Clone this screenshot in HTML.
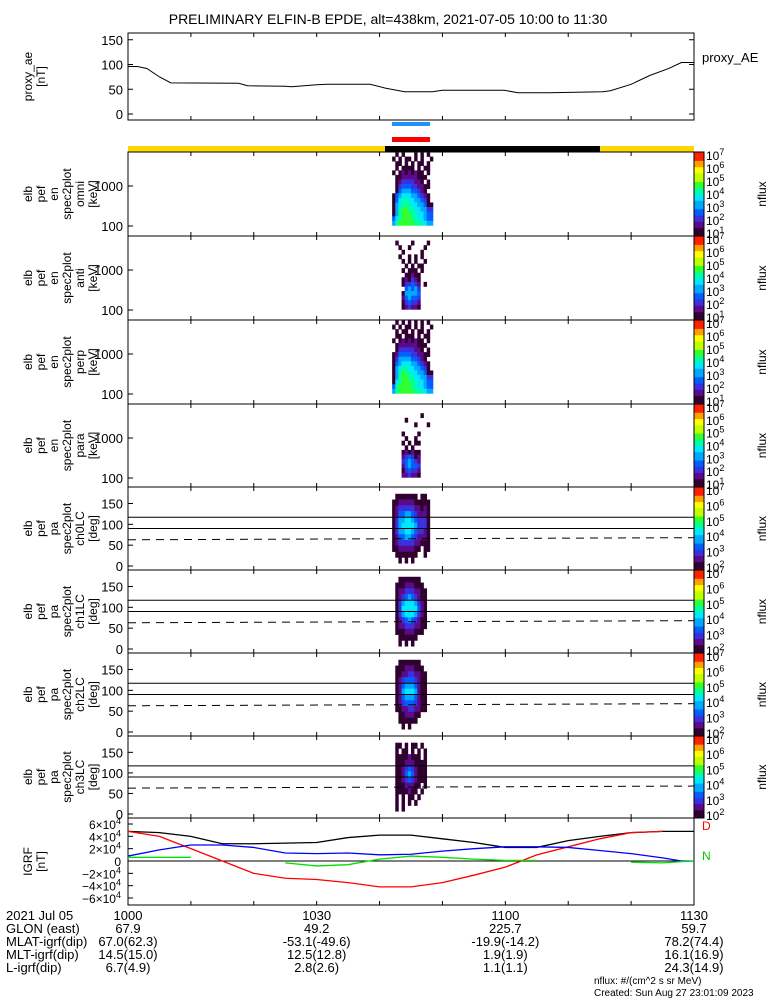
<!DOCTYPE html>
<html><head><meta charset="utf-8"><style>
body{margin:0;background:#fff}
svg{display:block;font-family:"Liberation Sans",sans-serif}
text{fill:#000}
</style></head><body>
<svg id="c" width="775" height="1000" viewBox="0 0 775 1000"></svg>
<script>
// ---------- data ----------
const aeTimes=[0,1.5,3,5,6.8,17.6,19,25,26,30,31.7,38.5,41,44,48.4,50,59.8,62,67,75.5,76.7,80,83,86,88,90];
const aeVals=[96,96,92,75,63,62,57,56,55,59,60,60,52,45,45,48,48,43,43,45,47,60,78,92,104,104];
const igrfTimes=[0,5,10,15,20,25,30,35,40,45,50,55,60,65,70,75,80,85,88,90];
const igrfBlack=[48000,46000,40000,28000,28000,29000,30000,38000,42000,42000,36000,30000,22000,22000,33000,40000,46000,48000,48000,48000];
const igrfRed=[48000,40000,20000,0,-20000,-28000,-30000,-35000,-42000,-42000,-35000,-23000,-10000,10000,23000,36000,46000,48000,null,null];
const igrfBlue=[8000,18000,26000,26000,22000,13000,12000,13000,10000,11000,16000,20000,23000,23000,22000,17000,12000,5000,0,0];
const igrfGreen=[6000,6000,6000,null,null,-3000,-8000,-6000,3000,8000,6000,3000,1000,1000,null,null,-2000,-3000,-1000,0];
const specStart=42.0, specStep=0.5; // minutes
const specOmni=["0101000101010","1010110101001","0110101011010","0101111010110","1012121211010","0112222211100","0123333221010","0134443322110","0145554432100","1456665543210","1467766554310","1567776655411","1578877665533","1578887766544","4678887766544","5788888777655","0000000000000"];
const specAnti=["0000000000000","0100001000010","0010010000100","0001000001000","0010010101000","0001010100100","0000101011000","0001011101000","0000112110000","0001213210000","0001334320100","0000454530000","0001555540000","0002454430000","0001343320000","0001232210000","0000000000000"];
const specPerp=["0101010101010","1010110101001","0101101011010","0110111010110","1012121211010","0122222211100","0133333221010","1244443322110","1355554432100","1456665543210","1567766554310","1578776655411","1578877665533","1678887766544","4788887766544","5788888777655","0000000000000"];
const specPara=["0000000000000","0000000000000","0000000001000","0000100000000","0000000100010","0000000000000","0001000010000","0000100100000","0001010110000","0000101000000","0001212110000","0002343120000","0003454320000","0002454430000","0001343320000","0002232210000","0000000000000"];
const pa0=["000000000000","011111110110","112222211111","123333322121","124455432221","135566543331","135666653331","135566543321","124455432221","123333322111","112222211011","011111110010","001010100000","000000000000"];
const pa1=["000000000000","001111111000","011122211100","012233322110","012345432110","013566653210","013666664210","013566653210","012345432110","012233322110","011122211100","001111110000","001010100000","000000000000"];
const pa2=["000000000000","001111111000","011122211100","011223322110","012344432110","012455542110","012566652110","012455542110","012344432110","011223322110","001122211000","001111110000","000101000000","000000000000"];
const pa3=["000000000000","011010110100","010110101010","011112111010","011122211110","011234321110","011245421110","011234321110","011122211010","011112110100","010101101000","010101010000","010100000000","000000000000"];
const cbLabelsE=["10","10","10","10","10","10","10"];
const cbExpE=[7,6,5,4,3,2,1];
// ---------- helpers ----------
const svg=document.getElementById('c');const NS='http://www.w3.org/2000/svg';
function mk(tag,attrs,parent){const e=document.createElementNS(NS,tag);for(const k in attrs)e.setAttribute(k,attrs[k]);(parent||svg).appendChild(e);return e;}
const X0=128,X1=694;
function xT(m){return X0+(X1-X0)*m/90;}
const cmap=['none','#300030','#5a0a8a','#3a30e0','#0060ff','#00a8ff','#00e8ff','#00ffa0','#30ff30'];
function txt(s,x,y,o){const t=mk('text',Object.assign({x:x,y:y,'font-size':13},o||{}));t.textContent=s;return t;}
let t=txt('PRELIMINARY ELFIN-B EPDE, alt=438km, 2021-07-05 10:00 to 11:30',388,24,{'text-anchor':'middle','font-size':14});

function frame(y0,y1,name){const r=mk('rect',{x:X0,y:y0,width:X1-X0,height:y1-y0,fill:'none',stroke:'#000','stroke-width':1});

for(let m=0;m<=90;m+=10){mk('line',{x1:xT(m),x2:xT(m),y1:y0,y2:y0+4,stroke:'#000'});mk('line',{x1:xT(m),x2:xT(m),y1:y1,y2:y1-4,stroke:'#000'});}}
function ylab(lines,y0,y1,name){const g=mk('g',{});
const cy=(y0+y1)/2;lines.forEach((s,i)=>{const x=32+i*13;const tt=txt(s,x,cy,{'text-anchor':'middle',transform:`rotate(-90 ${x} ${cy})`,'font-size':12});g.appendChild(tt);});}
// ---------- proxy AE ----------
const aeY=v=>114-v*0.495;
frame(33,120,'proxy-ae-panel');
[0,50,100,150].forEach(v=>{txt(String(v),123,aeY(v)+5,{'text-anchor':'end'});mk('line',{x1:X0,x2:X0+5,y1:aeY(v),y2:aeY(v),stroke:'#000'});mk('line',{x1:X1,x2:X1-5,y1:aeY(v),y2:aeY(v),stroke:'#000'});});
ylab(['proxy_ae','[nT]'],33,120,'proxy-ae-axis-title');
let p=mk('polyline',{points:aeTimes.map((m,i)=>xT(m)+','+aeY(aeVals[i])).join(' '),fill:'none',stroke:'#000'});

txt('proxy_AE',702,62);
mk('rect',{x:392,y:122,width:38,height:4,fill:'#2090ff'});
let r=mk('rect',{x:392,y:137,width:38,height:5,fill:'#ff0000'});
mk('rect',{x:X0,y:146,width:257,height:6,fill:'#ffd700'});mk('rect',{x:385,y:146,width:215,height:6,fill:'#000'});mk('rect',{x:600,y:146,width:94,height:6,fill:'#ffd700'});
function cbar(y0,y1,labels,exps,name){const g=mk('g',{});
const n=40;const cols=['#300030','#5a0a8a','#3a30e0','#0060ff','#00a8ff','#00e8ff','#00ffa0','#30ff30','#c0ff00','#ffff00','#ffa000','#ff2000'];
for(let i=0;i<n;i++){const f=i/(n-1);const c=cols[Math.min(cols.length-1,Math.floor(f*cols.length))];mk('rect',{x:694,y:y1-(i+1)*(y1-y0)/n,width:10,height:(y1-y0)/n+0.5,fill:c},g);}
mk('rect',{x:694,y:y0,width:10,height:y1-y0,fill:'none',stroke:'#000'},g);
labels.forEach((l,i)=>{const y=y0+3+i*(y1-y0-6)/(labels.length-1);const tt=txt(l,706,y+5,{'font-size':12});if(exps&&exps[i]!=null){const s=document.createElementNS(NS,'tspan');s.setAttribute('dy','-5');s.setAttribute('font-size','9');s.textContent=exps[i];tt.appendChild(s);}g.appendChild(tt);});
const cy=(y0+y1)/2;g.appendChild(txt('nflux',766,cy,{'text-anchor':'middle',transform:`rotate(-90 766 ${cy})`,'font-size':12}));}
function spec(y0,y1,rows,name,lbl,kind){frame(y0,y1,name+'-panel');
const g=mk('g',{});
const nr=rows.length;let rowY,rowH;
if(kind==='E'){const top=y0,bot=y0+78;rowH=(bot-top)/nr;rowY=i=>top+i*rowH;}
else{rowH=(y1-y0-2)/nr;rowY=i=>y0+1+i*rowH;}
rows.forEach((row,i)=>{for(let j=0;j<row.length;j++){const lv=+row[j];if(!lv)continue;
const x=xT(specStart+j*specStep);mk('rect',{x:x,y:rowY(i),width:xT(specStep)-X0+0.3,height:rowH+0.3,fill:cmap[lv]},g);}});
if(kind==='E'){[[1000,y0+34],[100,y0+74]].forEach(([v,y])=>{txt(String(v),123,y+5,{'text-anchor':'end'});mk('line',{x1:X0,x2:X0+5,y1:y,y2:y,stroke:'#000'});});
cbar(y0,y1,cbLabelsE,cbExpE,name+'-colorbar');}
else{const py=a=>y1-4-a*(y1-y0-8)/180;[0,50,100,150].forEach(v=>{txt(String(v),123,py(v)+5,{'text-anchor':'end'});mk('line',{x1:X0,x2:X0+5,y1:py(v),y2:py(v),stroke:'#000'});});
mk('line',{x1:X0,x2:X1,y1:py(117),y2:py(117),stroke:'#000'});mk('line',{x1:X0,x2:X1,y1:py(90),y2:py(90),stroke:'#000'});
mk('line',{x1:X0,x2:X1,y1:py(63),y2:py(68),stroke:'#000','stroke-dasharray':'8,6'});
cbar(y0,y1,['10','10','10','10','10','10'],[7,6,5,4,3,2],name+'-colorbar');}
ylab(lbl,y0,y1,name+'-axis-title');}
spec(152,236,specOmni,'omni-spec',['elb','pef','en','spec2plot','omni','[keV]'],'E');
spec(236,320,specAnti,'anti-spec',['elb','pef','en','spec2plot','anti','[keV]'],'E');
spec(320,404,specPerp,'perp-spec',['elb','pef','en','spec2plot','perp','[keV]'],'E');
spec(404,487,specPara,'para-spec',['elb','pef','en','spec2plot','para','[keV]'],'E');
spec(487,570,pa0,'pa-ch0-spec',['elb','pef','pa','spec2plot','ch0LC','[deg]'],'P');
spec(570,653,pa1,'pa-ch1-spec',['elb','pef','pa','spec2plot','ch1LC','[deg]'],'P');
spec(653,736,pa2,'pa-ch2-spec',['elb','pef','pa','spec2plot','ch2LC','[deg]'],'P');
spec(736,818,pa3,'pa-ch3-spec',['elb','pef','pa','spec2plot','ch3LC','[deg]'],'P');
frame(818,905,'igrf-panel');
const gy=v=>861-v*37/60000;
[[6,'6×10'],[4,'4×10'],[2,'2×10'],[0,'0'],[-2,'−2×10'],[-4,'−4×10'],[-6,'−6×10']].forEach(([v,s])=>{const tt=txt(s,121,gy(v*1e4)+5,{'text-anchor':'end','font-size':12});if(v!==0){const sp=document.createElementNS(NS,'tspan');sp.setAttribute('dy','-5');sp.setAttribute('font-size','9');sp.textContent='4';tt.appendChild(sp);}mk('line',{x1:X0,x2:X0+5,y1:gy(v*1e4),y2:gy(v*1e4),stroke:'#000'});});
mk('line',{x1:X0,x2:X1,y1:gy(0),y2:gy(0),stroke:'#000'});
ylab(['IGRF','[nT]'],818,905,'igrf-axis-title');
function series(vals,col,name){let segs=[],cur=[];igrfTimes.forEach((m,i)=>{if(vals[i]==null){if(cur.length)segs.push(cur);cur=[];}else cur.push(xT(m)+','+gy(vals[i]));});if(cur.length)segs.push(cur);
const g=mk('g',{});
segs.forEach(s=>mk('polyline',{points:s.join(' '),fill:'none',stroke:col,'stroke-width':1.3},g));}
series(igrfBlack,'#000','igrf-total-line');series(igrfRed,'#ff0000','igrf-bd-line');series(igrfBlue,'#0000ff','igrf-be-line');series(igrfGreen,'#00e000','igrf-bn-line');
txt('D',702,830,{style:'fill:#f00','font-size':12});txt('N',702,860,{style:'fill:#0c0','font-size':12});
const rowsF=[['2021 Jul 05','1000','1030','1100','1130'],['GLON (east)','67.9','49.2','225.7','59.7'],['MLAT-igrf(dip)','67.0(62.3)','-53.1(-49.6)','-19.9(-14.2)','78.2(74.4)'],['MLT-igrf(dip)','14.5(15.0)','12.5(12.8)','1.9(1.9)','16.1(16.9)'],['L-igrf(dip)','6.7(4.9)','2.8(2.6)','1.1(1.1)','24.3(14.9)']];
const fg=mk('g',{});
rowsF.forEach((r,i)=>{const y=920+i*13;fg.appendChild(txt(r[0],6,y,{'font-size':13}));[0,30,60,90].forEach((m,j)=>fg.appendChild(txt(r[j+1],xT(m),y,{'text-anchor':'middle','font-size':13})));});
txt('nflux: #/(cm^2 s sr MeV)',594,984,{'font-size':10});txt('Created: Sun Aug 27 23:01:09 2023',594,996,{'font-size':10});
</script></body></html>
